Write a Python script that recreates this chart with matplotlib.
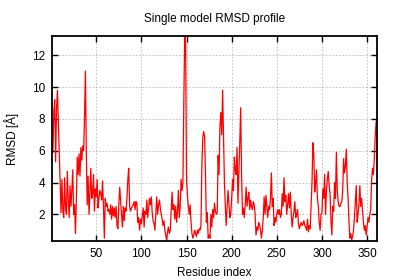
import numpy as np
import matplotlib
matplotlib.use("Agg")
import matplotlib.pyplot as plt

plt.rcParams['font.family'] = ['Liberation Sans', 'DejaVu Sans']

# per-residue RMSD, 10 residues per row
rmsd = [
    8.0, 5.9, 8.4, 9.2, 5.3, 8.6, 9.8, 7.8, 6.0, 4.0,
    2.1, 4.2, 2.2, 1.8, 4.3, 2.4, 2.0, 4.7, 2.9, 1.8,
    3.8, 2.5, 3.5, 4.8, 2.0, 2.6, 0.8, 3.0, 5.6, 4.5,
    5.8, 4.4, 6.2, 5.4, 6.3, 6.0, 8.0, 11.0, 6.0, 2.6,
    4.4, 2.0, 3.3, 4.9, 3.0, 3.3, 4.5, 2.2, 3.6, 3.1,
    4.2, 2.4, 3.0, 3.5, 3.3, 2.9, 4.1, 2.5, 0.5, 3.0,
    2.5, 2.7, 2.2, 2.3, 2.0, 2.6, 1.7, 2.5, 1.9, 2.4,
    1.8, 2.5, 1.3, 1.1, 2.6, 3.7, 2.8, 2.0, 1.2, 2.5,
    1.6, 2.4, 2.2, 3.0, 4.2, 4.9, 2.5, 2.2, 2.4, 2.5,
    2.6, 2.8, 2.3, 2.8, 2.7, 1.5, 1.8, 1.0, 1.7, 1.4,
    1.9, 2.4, 1.2, 2.2, 2.0, 2.9, 1.8, 2.4, 3.0, 2.6,
    3.1, 2.1, 1.6, 1.4, 1.0, 2.0, 3.1, 2.0, 2.6, 2.9,
    2.4, 2.0, 1.7, 1.3, 1.6, 1.0, 0.7, 0.32, 0.9, 1.2,
    0.8, 1.0, 2.2, 3.4, 2.3, 2.6, 1.7, 2.5, 1.5, 2.2,
    3.5, 1.8, 2.5, 4.2, 3.5, 4.0, 9.0, 13.2, 12.8, 4.2,
    3.2, 2.5, 2.0, 2.6, 1.5, 0.8, 0.5, 0.7, 1.0, 0.8,
    0.6, 1.0, 0.8, 1.1, 1.0, 1.3, 5.0, 6.8, 7.2, 6.9,
    4.5, 1.5, 2.1, 0.5, 0.7, 0.5, 2.0, 1.2, 2.3, 1.8,
    2.7, 2.2, 2.0, 2.1, 5.7, 4.5, 7.5, 8.4, 7.0, 9.8,
    7.0, 4.0, 2.5, 1.3, 2.5, 3.5, 2.6, 1.8, 2.0, 3.0,
    4.2, 3.5, 5.6, 4.8, 4.5, 6.2, 2.7, 4.5, 6.5, 8.7,
    4.5, 2.0, 2.4, 1.8, 2.6, 3.7, 2.5, 3.0, 3.4, 2.3,
    2.9, 2.5, 2.3, 2.8, 2.6, 2.0, 0.7, 1.2, 1.0, 1.5,
    1.3, 1.0, 0.5, 1.0, 1.8, 3.1, 2.0, 3.2, 2.5, 1.8,
    2.5, 2.3, 3.0, 4.6, 2.5, 3.0, 1.3, 1.8, 1.5, 2.0,
    2.3, 2.0, 2.3, 1.8, 2.0, 3.3, 2.5, 4.3, 2.8, 3.2,
    2.0, 2.6, 3.3, 2.4, 3.4, 2.0, 1.2, 1.8, 2.2, 2.8,
    1.8, 2.0, 2.3, 1.4, 1.1, 1.3, 1.5, 1.3, 1.4, 1.6,
    1.3, 1.2, 1.0, 1.7, 0.9, 1.3, 1.1, 2.6, 4.0, 6.5,
    5.8, 3.4, 4.0, 4.8, 3.0, 2.5, 1.5, 1.0, 2.0, 2.1,
    3.6, 3.0, 4.5, 2.0, 3.5, 4.2, 4.7, 3.8, 3.3, 1.6,
    0.7, 2.5, 2.2, 4.0, 3.0, 5.9, 3.5, 2.8, 2.5, 2.5,
    2.7, 2.8, 3.5, 5.5, 4.6, 5.0, 6.1, 4.0, 3.0, 1.5,
    0.5, 0.8, 0.4, 0.6, 1.0, 1.8, 2.8, 3.8, 1.5, 2.0,
    2.6, 3.8, 2.5, 3.0, 2.2, 1.5, 1.0, 1.3, 0.7, 1.2,
    1.8, 1.5, 2.0, 2.3, 4.1, 4.9, 4.5, 5.5, 6.9, 7.8, 8.0,
]
residues = np.arange(1, len(rmsd) + 1)

xticks = [50, 100, 150, 200, 250, 300, 350]
yticks = [2, 4, 6, 8, 10, 12]

fig = plt.figure(figsize=(4, 2.8), dpi=100)
ax = fig.add_axes([0.13, 0.139, 0.8125, 0.732])

ax.plot(residues, rmsd, color="red", linewidth=0.9)

ax.set_xlim(residues[0], residues[-1])
ax.set_ylim(min(rmsd), max(rmsd))
ax.set_xticks(xticks)
ax.set_yticks(yticks)
ax.grid(True, color="#b8b8b8", linestyle=(0, (2, 2)), linewidth=0.6)
ax.tick_params(direction="in", top=True, right=True, length=4, width=1,
               labelsize=8.5, pad=5)
for s in ax.spines.values():
    s.set_linewidth(1.3)

ax.set_title("Single model RMSD profile", fontsize=8.5, pad=10)
ax.set_xlabel("Residue index", fontsize=8.5, labelpad=5)
ax.set_ylabel("RMSD [Å]", fontsize=8.5, labelpad=9)

fig.savefig("out.png", dpi=100)
